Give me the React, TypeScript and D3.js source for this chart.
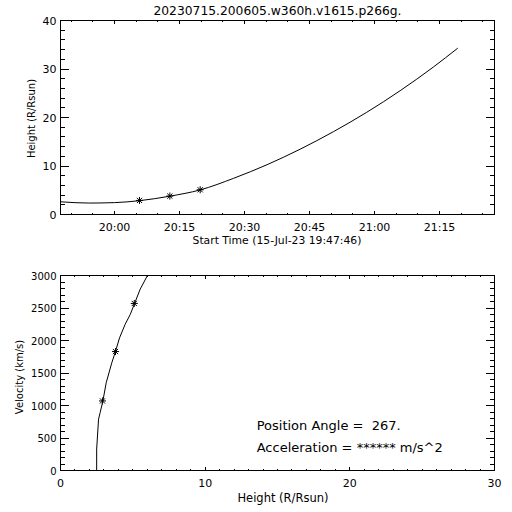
import React from "react";
import * as d3 from "d3";

const titleText = "20230715.200605.w360h.v1615.p266g.";
const startLabel = "Start Time (15-Jul-23 19:47:46)";
const day = "2023-07-15";

const timeDomain = ["19:47:32", "21:27:41"];
const timeTicks = ["20:00", "20:15", "20:30", "20:45", "21:00", "21:15"];
const heightTicks = [0, 10, 20, 30, 40];

const fitTimes = ["19:47:32", "19:54:12", "20:00:00", "20:05:46", "20:12:46", "20:19:46", "20:27:30", "20:35:12", "20:42:51", "20:50:30", "20:58:12", "21:05:54", "21:13:36", "21:19:12"];
const fitHeights = [2.62, 2.36, 2.45, 2.85, 3.78, 5.07, 7.47, 10.27, 13.47, 17.07, 21.07, 25.52, 30.42, 34.3];

const markerTimes = ["20:05:46", "20:12:46", "20:19:46"];
const markerHeights = [2.9, 3.8, 5.1];
const markerVelocities = [1070, 1830, 2570];

const velHeights = [2.5, 2.5, 2.63, 2.74, 2.93, 3.16, 3.55, 3.8, 4.08, 4.47, 4.82, 5.12, 5.51, 6.01];
const velValues = [0, 330, 790, 890, 1070, 1350, 1660, 1830, 2040, 2250, 2400, 2570, 2790, 3000];
const velTicks = [0, 500, 1000, 1500, 2000, 2500, 3000];
const distTicks = [0, 10, 20, 30];

const positionAngleText = "Position Angle =  267.";
const accelText = "Acceleration = ****** m/s^2";

const FONT = "DejaVu Sans, sans-serif";
const L = 60.5, R = 494.5;
const T1 = 20.5, B1 = 214.5;
const T2 = 275.5, B2 = 470.5;

const toDate = (s: string) => new Date(`${day}T${s.length === 5 ? s + ":00" : s}`);

function Asterisk({ x, y }: { x: number; y: number }) {
  const r = 3.5, d = 2.6;
  return (
    <g stroke="#000" strokeWidth={1}>
      <line x1={x - r} y1={y} x2={x + r} y2={y} />
      <line x1={x} y1={y - r} x2={x} y2={y + r} />
      <line x1={x - d} y1={y - d} x2={x + d} y2={y + d} />
      <line x1={x - d} y1={y + d} x2={x + d} y2={y - d} />
    </g>
  );
}

export default function App() {
  const xT = d3.scaleTime().domain(timeDomain.map(toDate)).range([L, R]);
  const yH = d3.scaleLinear().domain([0, 40]).range([B1, T1]);
  const xD = d3.scaleLinear().domain([0, 30]).range([L, R]);
  const yV = d3.scaleLinear().domain([0, 3000]).range([B2, T2]);

  const fitLine = d3.line<number>().x((_, i) => xT(toDate(fitTimes[i]))).y((h) => yH(h)).curve(d3.curveMonotoneX);
  const velLine = d3.line<number>().x((h) => xD(h)).y((_, i) => yV(velValues[i]));

  const timeMinor = d3.timeMinute.every(5)!.range(xT.domain()[0], xT.domain()[1]);
  const hMinor = d3.range(0, 40.01, 2);
  const dMinor = d3.range(0, 30.01, 1);
  const vMinor = d3.range(0, 3000.1, 100);

  const xTickLen1 = 3.9, yTickLen = 8.7;

  const ticksX = (xs: number[], top: number, bottom: number, len: number, key: string) =>
    xs.map((x, i) => (
      <g key={key + i}>
        <line x1={x} x2={x} y1={bottom} y2={bottom - len} />
        <line x1={x} x2={x} y1={top} y2={top + len} />
      </g>
    ));
  const ticksY = (ys: number[], len: number, key: string) =>
    ys.map((y, i) => (
      <g key={key + i}>
        <line x1={L} x2={L + len} y1={y} y2={y} />
        <line x1={R} x2={R - len} y1={y} y2={y} />
      </g>
    ));

  return (
    <svg width={512} height={512} style={{ position: "absolute", left: 0, top: 0, background: "#fff" }} fontFamily={FONT}>
      <defs>
        <clipPath id="c1"><rect x={L} y={T1} width={R - L} height={B1 - T1} /></clipPath>
        <clipPath id="c2"><rect x={L} y={T2} width={R - L} height={B2 - T2} /></clipPath>
      </defs>
      <rect width={512} height={512} fill="#fff" />
      <text x={277.5} y={15} fontSize={12.3} textAnchor="middle">{titleText}</text>

      {/* top plot */}
      <g stroke="#000" strokeWidth={1} shapeRendering="crispEdges">
        <rect x={L} y={T1} width={R - L} height={B1 - T1} fill="none" />
        {ticksX(timeTicks.map((t) => xT(toDate(t))), T1, B1, xTickLen1, "tM")}
        {ticksX(timeMinor.map((t) => xT(t)), T1, B1, xTickLen1 / 2, "tm")}
        {ticksY(heightTicks.map((h) => yH(h)), yTickLen, "hM")}
        {ticksY(hMinor.map((h) => yH(h)), yTickLen / 2, "hm")}
      </g>
      <path d={fitLine(fitHeights) ?? ""} fill="none" stroke="#000" strokeWidth={1} clipPath="url(#c1)" />
      {markerTimes.map((t, i) => (
        <Asterisk key={"a" + i} x={xT(toDate(t))} y={yH(markerHeights[i])} />
      ))}
      {heightTicks.map((h) => (
        <text key={"hl" + h} x={56.5} y={yH(h) + 4} fontSize={11} textAnchor="end">{h}</text>
      ))}
      {timeTicks.map((t) => (
        <text key={"tl" + t} x={xT(toDate(t))} y={230.7} fontSize={11} textAnchor="middle">{t}</text>
      ))}
      <text x={277} y={244} fontSize={10.8} textAnchor="middle">{startLabel}</text>
      <text transform={`translate(35,118.5) rotate(-90)`} fontSize={10} textAnchor="middle">Height (R/Rsun)</text>

      {/* bottom plot */}
      <g stroke="#000" strokeWidth={1} shapeRendering="crispEdges">
        <rect x={L} y={T2} width={R - L} height={B2 - T2} fill="none" />
        {ticksX(distTicks.map((d) => xD(d)), T2, B2, xTickLen1, "dM")}
        {ticksX(dMinor.map((d) => xD(d)), T2, B2, xTickLen1 / 2, "dm")}
        {ticksY(velTicks.map((v) => yV(v)), yTickLen, "vM")}
        {ticksY(vMinor.map((v) => yV(v)), yTickLen / 2, "vm")}
      </g>
      <path d={velLine(velHeights) ?? ""} fill="none" stroke="#000" strokeWidth={1} clipPath="url(#c2)" />
      {markerVelocities.map((v, i) => (
        <Asterisk key={"b" + i} x={xD(markerHeights[i])} y={yV(v)} />
      ))}
      {velTicks.map((v) => (
        <text key={"vl" + v} x={56.5} y={yV(v) + 4} fontSize={10} textAnchor="end">{v}</text>
      ))}
      {distTicks.map((d) => (
        <text key={"dl" + d} x={xD(d)} y={486.7} fontSize={11} textAnchor="middle">{d}</text>
      ))}
      <text x={283} y={501.5} fontSize={11.5} textAnchor="middle">Height (R/Rsun)</text>
      <text transform={`translate(22.5,377) rotate(-90)`} fontSize={10} textAnchor="middle">Velocity (km/s)</text>

      <text x={256.7} y={430} fontSize={13} style={{ whiteSpace: "pre" }}>{positionAngleText}</text>
      <text x={256.7} y={451.5} fontSize={13} style={{ whiteSpace: "pre" }}>{accelText}</text>
    </svg>
  );
}
